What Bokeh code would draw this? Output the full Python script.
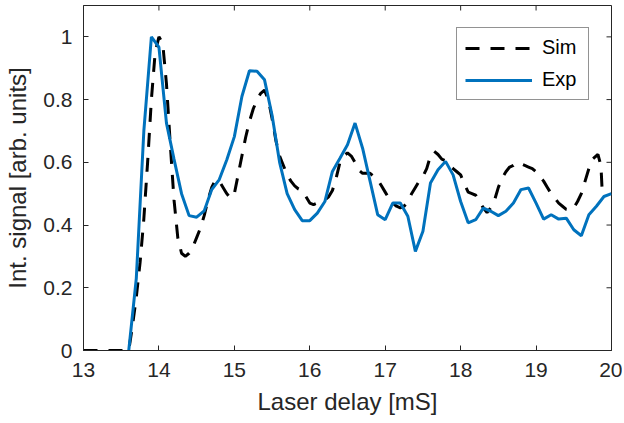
import math
from bokeh.plotting import figure
from bokeh.models import Range1d, FixedTicker, Legend, LegendItem
from bokeh.embed import file_html
from bokeh.resources import INLINE

# Experimental data (step 0.1)
exp_x = [13.6, 13.7, 13.8, 13.9, 14.0, 14.1, 14.2, 14.3, 14.4, 14.5, 14.6, 14.7, 14.8, 14.9,
         15.0, 15.1, 15.2, 15.3, 15.4, 15.5, 15.6, 15.7, 15.8, 15.9, 16.0, 16.1, 16.2, 16.3,
         16.4, 16.5, 16.6, 16.7, 16.8, 16.9, 17.0, 17.1, 17.2, 17.3, 17.4, 17.5, 17.6, 17.7,
         17.8, 17.9, 18.0, 18.1, 18.2, 18.3, 18.4, 18.5, 18.6, 18.7, 18.8, 18.9, 19.0, 19.1,
         19.2, 19.3, 19.4, 19.5, 19.6, 19.7, 19.8, 19.9, 20.0]
exp_y = [0.00, 0.23, 0.70, 1.00, 0.967, 0.725, 0.61, 0.50, 0.43, 0.425, 0.445, 0.513, 0.545, 0.608,
         0.682, 0.81, 0.892, 0.89, 0.863, 0.75, 0.60, 0.50, 0.449, 0.414, 0.414, 0.438, 0.475, 0.571,
         0.613, 0.656, 0.725, 0.645, 0.539, 0.433, 0.417, 0.47, 0.47, 0.428, 0.316, 0.38, 0.534, 0.576,
         0.603, 0.56, 0.475, 0.407, 0.417, 0.454, 0.444, 0.43, 0.444, 0.47, 0.513, 0.518, 0.47, 0.419,
         0.433, 0.419, 0.422, 0.385, 0.366, 0.433, 0.46, 0.491, 0.50]

# Simulation data
sim_x = [13.0, 13.2, 13.4, 13.6, 13.65, 13.7, 13.75, 13.8, 13.85, 13.9, 13.95, 14.0, 14.05, 14.1,
         14.15, 14.2, 14.25, 14.3, 14.35, 14.4, 14.45, 14.5, 14.55, 14.6, 14.65, 14.7, 14.75, 14.8,
         14.85, 14.9, 14.95, 15.0, 15.05, 15.1, 15.15, 15.2, 15.25, 15.3, 15.35, 15.4, 15.45, 15.5,
         15.55, 15.6, 15.65, 15.7, 15.75, 15.8, 15.85, 15.9, 15.95, 16.0, 16.05, 16.1, 16.15, 16.2,
         16.25, 16.3, 16.35, 16.4, 16.45, 16.5, 16.55, 16.6, 16.65, 16.7, 16.75, 16.8, 16.85, 16.9,
         16.95, 17.0, 17.05, 17.1, 17.15, 17.2, 17.25, 17.3, 17.35, 17.4, 17.45, 17.5, 17.55, 17.6,
         17.65, 17.7, 17.75, 17.8, 17.85, 17.9, 17.95, 18.0, 18.05, 18.1, 18.15, 18.2, 18.25, 18.3,
         18.35, 18.4, 18.45, 18.5, 18.55, 18.6, 18.65, 18.7, 18.75, 18.8, 18.85, 18.9, 18.95, 19.0,
         19.05, 19.1, 19.15, 19.2, 19.25, 19.3, 19.35, 19.4, 19.45, 19.5, 19.55, 19.6, 19.65, 19.7,
         19.75, 19.82, 19.86, 19.88]
sim_y = [0.0, 0.0, 0.0, 0.0, 0.08, 0.17, 0.28, 0.42, 0.60, 0.80, 0.95, 1.00, 0.98, 0.85,
         0.66, 0.48, 0.36, 0.31, 0.30, 0.31, 0.33, 0.36, 0.39, 0.43, 0.48, 0.52, 0.545, 0.54,
         0.52, 0.50, 0.485, 0.50, 0.56, 0.62, 0.68, 0.73, 0.77, 0.80, 0.82, 0.83, 0.80, 0.74,
         0.67, 0.62, 0.59, 0.56, 0.54, 0.525, 0.515, 0.51, 0.49, 0.47, 0.465, 0.47, 0.475, 0.48,
         0.49, 0.51, 0.55, 0.60, 0.62, 0.63, 0.62, 0.60, 0.575, 0.565, 0.565, 0.565, 0.555, 0.545,
         0.525, 0.505, 0.485, 0.47, 0.46, 0.455, 0.46, 0.475, 0.50, 0.52, 0.54, 0.555, 0.58, 0.62,
         0.635, 0.625, 0.61, 0.605, 0.59, 0.58, 0.57, 0.56, 0.53, 0.505, 0.50, 0.495, 0.475, 0.455,
         0.44, 0.455, 0.48, 0.52, 0.55, 0.57, 0.585, 0.59, 0.60, 0.595, 0.59, 0.585, 0.58, 0.57,
         0.555, 0.54, 0.52, 0.50, 0.485, 0.47, 0.46, 0.45, 0.447, 0.455, 0.475, 0.50, 0.54, 0.58,
         0.61, 0.625, 0.59, 0.49]

x_ticks = [13, 14, 15, 16, 17, 18, 19, 20]
y_ticks = [0, 0.2, 0.4, 0.6, 0.8, 1]
y_tick_labels = {0: "0", 0.2: "0.2", 0.4: "0.4", 0.6: "0.6", 0.8: "0.8", 1: "1"}
x_min, x_max, y_min, y_max = 13, 20, 0, 1.1

AX = "#262626"
FONT = "Liberation Sans"

p = figure(width=622, height=422, output_backend="svg", toolbar_location=None,
           x_range=Range1d(x_min, x_max), y_range=Range1d(y_min, y_max),
           min_border_left=83, min_border_right=11, min_border_top=5, min_border_bottom=72)
p.background_fill_color = "white"
p.border_fill_color = "white"
p.outline_line_color = AX
p.outline_line_width = 1
p.xgrid.visible = False
p.ygrid.visible = False

for ax in (p.xaxis[0], p.yaxis[0]):
    ax.major_tick_in = 5
    ax.major_tick_out = 0
    ax.minor_tick_in = 0
    ax.minor_tick_out = 0
    ax.axis_line_color = AX
    ax.major_tick_line_color = AX
    ax.major_label_text_color = AX
    ax.major_label_text_font = FONT
    ax.major_label_text_font_size = "21px"
    ax.axis_label_text_font = FONT
    ax.axis_label_text_font_size = "24px"
    ax.axis_label_text_font_style = "normal"
    ax.axis_label_text_color = AX

p.xaxis[0].ticker = FixedTicker(ticks=x_ticks)
p.yaxis[0].ticker = FixedTicker(ticks=y_ticks)
p.yaxis[0].major_label_overrides = y_tick_labels
p.xaxis[0].axis_label = "Laser delay [mS]"
p.yaxis[0].axis_label = "Int. signal [arb. units]"
p.xaxis[0].major_label_standoff = 12
p.yaxis[0].major_label_standoff = 11
p.xaxis[0].axis_label_standoff = 8
p.yaxis[0].axis_label_standoff = 9

# inward ticks on the top and right edges of the box
p.ray(x=x_ticks, y=[y_max] * len(x_ticks), length=5, length_units="screen",
      angle=-math.pi / 2, line_color=AX, line_width=1)
p.ray(x=[x_max] * len(y_ticks), y=y_ticks, length=5, length_units="screen",
      angle=math.pi, line_color=AX, line_width=1)

r_sim = p.line(sim_x, sim_y, line_color="black", line_width=3, line_dash="14 11")
r_exp = p.line(exp_x, exp_y, line_color="#0072BD", line_width=3)

legend = Legend(items=[LegendItem(label="Sim", renderers=[r_sim]),
                       LegendItem(label="Exp", renderers=[r_exp])],
                location="top_right", margin=22, padding=8, spacing=9,
                glyph_width=67, glyph_height=20, label_height=20, label_width=38,
                label_standoff=10,
                label_text_font=FONT, label_text_font_size="20px", label_text_color="black",
                border_line_color=AX, border_line_width=1, background_fill_color="white",
                background_fill_alpha=1)
p.add_layout(legend)

open("out.html", "w").write(file_html(p, INLINE))
